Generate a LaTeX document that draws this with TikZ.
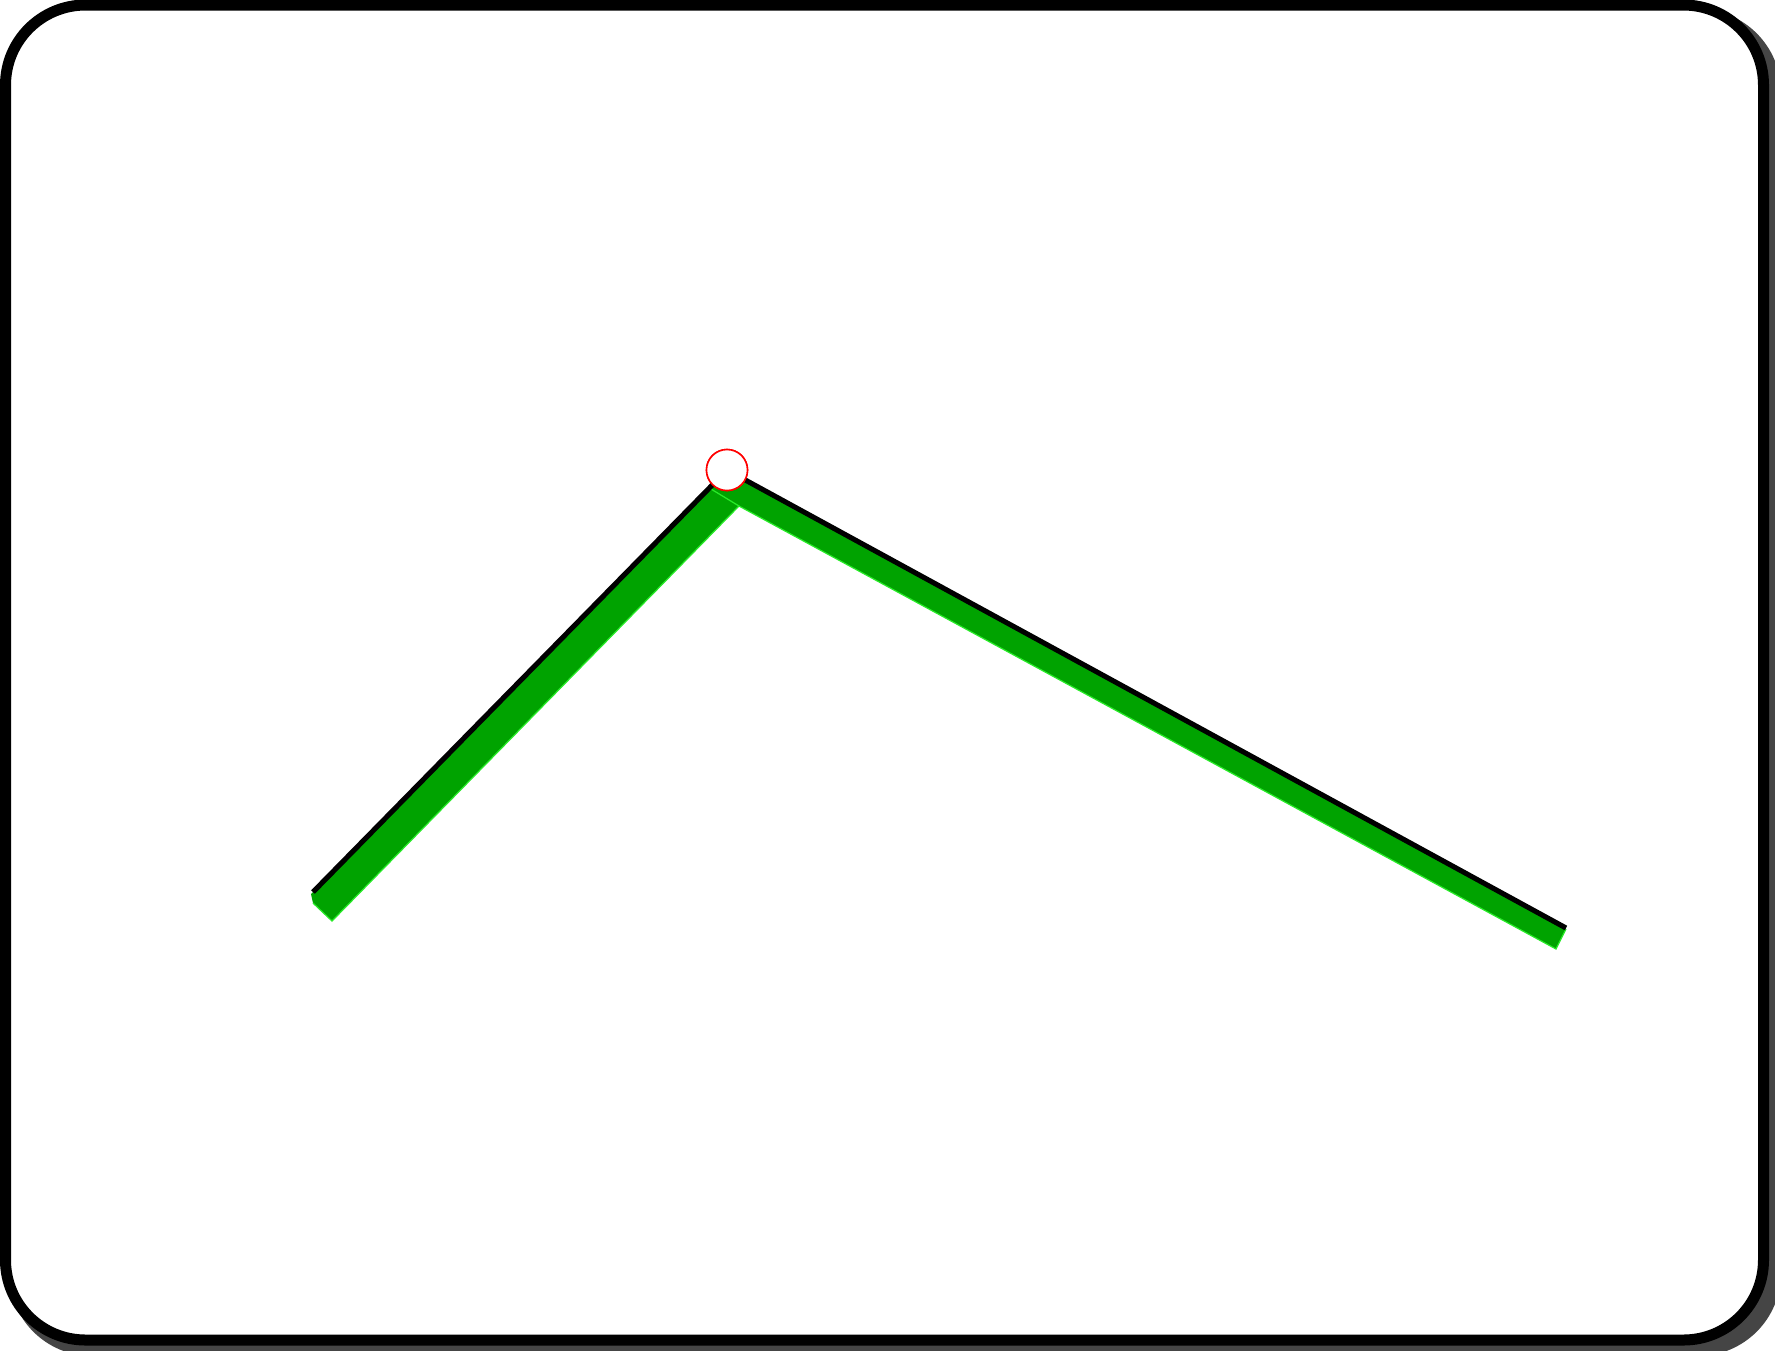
\documentclass[tikz,border=0pt]{standalone}
\begin{document}
\begin{tikzpicture}[x=0.01cm,y=-0.01cm,
  frame/.style={line width=3.13pt,draw=black,fill=white,rounded corners=0.8cm},
  shadowbox/.style={fill=black!73,rounded corners=0.83cm},
  beam/.style={fill=bargreen},
  beamedge/.style={draw=edgegreen,line width=0.35pt},
  topline/.style={draw=black,line width=1.45pt,line cap=butt,line join=miter},
  jointstyle/.style={circle,draw=red,fill=white,line width=0.45pt,minimum size=0.41cm,inner sep=0pt}]
\definecolor{bargreen}{RGB}{0,163,0}
\definecolor{edgegreen}{RGB}{40,235,40}
\useasboundingbox (0,0) rectangle (1775,1350);
\begin{scope}
\clip (0,0) rectangle (1775,1350);
\fill[shadowbox] (9,9) rectangle (1781,1356);
\end{scope}
\path[frame] (5.5,5) rectangle (1763.5,1340);
% coordinates of the bent bar
\coordinate (A) at (311,894);
\coordinate (B) at (313,903);
\coordinate (C) at (332,921);
\coordinate (D) at (739,506);
\coordinate (E) at (1556,949);
\coordinate (F) at (1566,929);
\coordinate (G) at (727,472);
\coordinate (S) at (711,489);
\coordinate (L) at (313,892);
\coordinate (R) at (1566,928);
\fill[beam] (A) -- (B) -- (C) -- (D) -- (E) -- (F) -- (G) -- cycle;
\draw[beamedge] (B) -- (C) -- (D) -- (E) -- (F);
\draw[beamedge] (S) -- (D);
\node[jointstyle] (joint) at (727,470) {};
\draw[topline] (L) -- (joint.center) -- (R);
\node[jointstyle] at (joint.center) {};
\end{tikzpicture}
\end{document}
